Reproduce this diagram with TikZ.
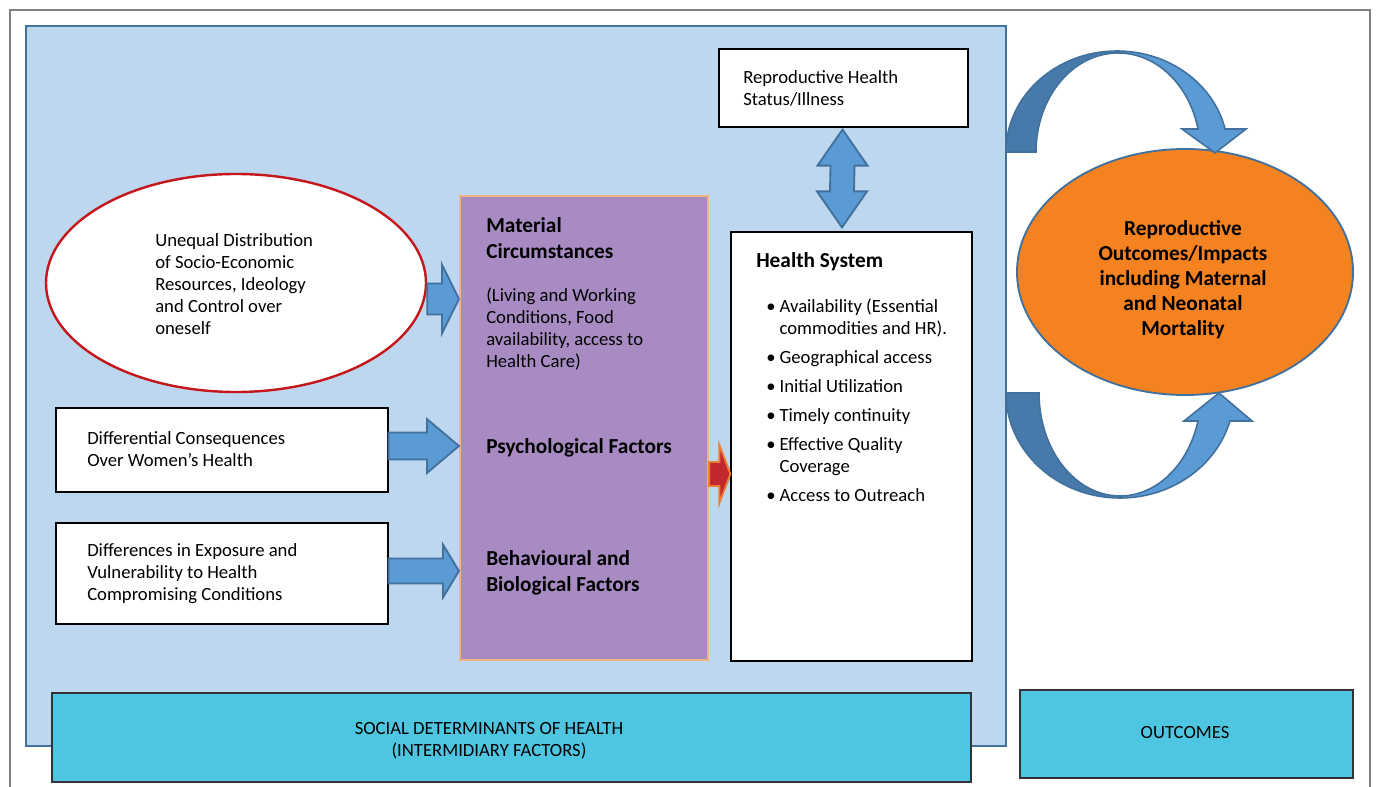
\documentclass[tikz,border=0pt]{standalone}
\usepackage{fontspec}
\setmainfont{Carlito}
\usetikzlibrary{calc,shapes.geometric}

\definecolor{panelblue}{HTML}{BDD7EE}
\definecolor{frameblue}{HTML}{41719C}
\definecolor{arrowblue}{HTML}{5B9BD5}
\definecolor{arcdark}{HTML}{477AAB}
\definecolor{boxpurple}{HTML}{A88BC3}
\definecolor{peach}{HTML}{F4B183}
\definecolor{outorange}{HTML}{F58220}
\definecolor{ellred}{HTML}{C4161C}
\definecolor{labelcyan}{HTML}{4FC6E1}
\definecolor{arrowred}{HTML}{C0282D}
\definecolor{arroworange}{HTML}{ED7D31}

\def\pxl{0.75pt}

% block arrow pointing right: style, tail, tip, shaft half, head half, head length
\newcommand{\rightblock}[6]{%
  \draw[#1] ($(#2|-#3)+(0,-#4)$) -- ($(#3)+(-#6,-#4)$) -- ($(#3)+(-#6,-#5)$) -- (#3)
    -- ($(#3)+(-#6,#5)$) -- ($(#3)+(-#6,#4)$) -- ($(#2|-#3)+(0,#4)$) -- cycle;}

\tikzset{
  plainbox/.style={draw=black, fill=white, line width=0.9pt, inner sep=0},
  txt/.style={anchor=north west, inner sep=0, align=left, font=\fontsize{14}{16.5}\selectfont},
  boldtxt/.style={anchor=north west, inner sep=0, align=left, font=\bfseries\fontsize{16}{19.5}\selectfont},
  blockarrow/.style={fill=arrowblue, draw=frameblue, line width=1.4pt, line join=miter},
  labelbox/.style={draw=black!80, fill=labelcyan, line width=0.9pt, inner sep=0, align=center,
    font=\fontsize{14}{16.5}\selectfont}
}

\begin{document}
\begin{tikzpicture}[x=0.75pt,y=-0.75pt]
\useasboundingbox (0,0) rectangle (1376,787);

% outer frame
\draw[black!50, line width=1.2pt] (10,787) -- (10,10) -- (1370,10) -- (1370,787);

% panel
\node[draw=frameblue, fill=panelblue, line width=2pt, inner sep=0,
  minimum width=980*\pxl, minimum height=720*\pxl] (panel) at (516,386) {};

% boxes
\node[plainbox, minimum width=249*\pxl, minimum height=78*\pxl] (status) at (843.5,88) {};
\node[txt] (statustext) at (743,70.5) {Reproductive Health\\Status/Illness};

\node[ellipse, draw=ellred, fill=white, line width=1.8pt, inner sep=0,
  minimum width=380*\pxl, minimum height=218*\pxl] (ineq) at (236,283) {};
\node[txt] (ineqtext) at (155,233.5) {Unequal Distribution\\of Socio-Economic\\Resources, Ideology\\and Control over\\oneself};

\node[plainbox, minimum width=332*\pxl, minimum height=84*\pxl] (diffcons) at (222,450) {};
\node[txt] (diffconstext) at (87,431.5) {Differential Consequences\\Over Women’s Health};

\node[plainbox, minimum width=332*\pxl, minimum height=101*\pxl] (diffexp) at (222,573.5) {};
\node[txt] (diffexptext) at (87,543.5) {Differences in Exposure and\\Vulnerability to Health\\Compromising Conditions};

\node[draw=peach, fill=boxpurple, line width=1.6pt, inner sep=0,
  minimum width=248*\pxl, minimum height=464*\pxl] (purple) at (584,428) {};
\node[boldtxt] (material) at (486,217.5) {Material\\Circumstances};
\node[txt] (living) at (486,287.5) {(Living and Working\\Conditions, Food\\availability, access to\\Health Care)};
\node[boldtxt] (psych) at (486,438.5) {Psychological Factors};
\node[boldtxt] (behav) at (486,550.5) {Behavioural and\\Biological Factors};

\node[plainbox, minimum width=241*\pxl, minimum height=429*\pxl] (hsys) at (851.5,446.5) {};
\node[boldtxt] (hsystitle) at (756,252.5) {Health System};
\node[txt] (hsyslist) at (766,298.5) {%
  \makebox[10pt][l]{•}Availability (Essential\\
  \hspace*{10pt}commodities and HR).\\[5.25pt]
  \makebox[10pt][l]{•}Geographical access\\[5.25pt]
  \makebox[10pt][l]{•}Initial Utilization\\[5.25pt]
  \makebox[10pt][l]{•}Timely continuity\\[5.25pt]
  \makebox[10pt][l]{•}Effective Quality\\
  \hspace*{10pt}Coverage\\[5.25pt]
  \makebox[10pt][l]{•}Access to Outreach};

% arrows into the purple box
\coordinate (tipa) at (purple.west |- 0,299);
\coordinate (tipb) at (purple.west |- 0,446);
\coordinate (tipc) at (purple.west |- 0,571);
\coordinate (tipd) at (hsys.west |- 0,474);
\rightblock{blockarrow}{ineq.east}{tipa}{15.5}{34.5}{17}
\rightblock{blockarrow}{diffcons.east}{tipb}{13.5}{27}{32}
\rightblock{blockarrow}{diffexp.east}{tipc}{12.5}{26.5}{16}
\rightblock{fill=arrowred, draw=arroworange, line width=1.4pt}{purple.east}{tipd}{12}{29}{11}

% double arrow status <-> health system
\coordinate (up) at ($(status.south)+(-1,2)$);
\coordinate (down) at ($(hsys.north)+(-9.5,-4)$);
\draw[blockarrow] (up) -- ++(25,36) -- ++(-13,0) -- ($(down)+(12,-36)$) -- ($(down)+(25,-36)$)
  -- (down) -- ($(down)+(-25,-36)$) -- ($(down)+(-12,-36)$) -- ($(up)+(-12,36)$) -- ++(-13,0) -- cycle;

% outcome ellipse
\node[ellipse, draw=frameblue, fill=outorange, line width=1.4pt, inner sep=0,
  minimum width=336*\pxl, minimum height=246*\pxl] (outcome) at (1185,272) {};
\node[align=center, inner sep=0, font=\bfseries\fontsize{16}{18.75}\selectfont] (outcometext) at (1183,280)
  {Reproductive\\Outcomes/Impacts\\including Maternal\\and Neonatal\\Mortality};

% curved arrows
\draw[fill=arcdark, draw=frameblue, line width=1.2pt] (1006,152) arc[start angle=180, end angle=270, x radius=111, y radius=101]
  -- (1118,53) arc[start angle=270, end angle=180, x radius=82, y radius=99] -- cycle;
\draw[fill=arrowblue, draw=frameblue, line width=1.2pt] (1117,51) arc[start angle=270, end angle=346.84, x radius=111, y radius=101]
  -- (1246,129) -- (1215,153) -- (1182,129) -- (1198,129)
  arc[start angle=346.57, end angle=270, x radius=82, y radius=99] -- cycle;
\draw[fill=arcdark, draw=frameblue, line width=1.2pt] (1006,393) arc[start angle=180, end angle=90, x radius=114, y radius=105]
  -- (1120,496) arc[start angle=90, end angle=180, x radius=81, y radius=103] -- cycle;
\draw[fill=arrowblue, draw=frameblue, line width=1.2pt] (1120,498) arc[start angle=90, end angle=15.47, x radius=114, y radius=105]
  -- (1252,421) -- (1219,393) -- (1184,421) -- (1198,421)
  arc[start angle=15.77, end angle=90, x radius=81, y radius=103] -- cycle;

% bottom labels
\node[labelbox, minimum width=919*\pxl, minimum height=89*\pxl] (sdh) at (511.5,737.5) {};
\node[align=center, inner sep=0, font=\fontsize{14}{16.5}\selectfont] (sdhtext) at (489,740.5)
  {SOCIAL DETERMINANTS OF HEALTH\\(INTERMIDIARY FACTORS)};
\node[labelbox, minimum width=333*\pxl, minimum height=88*\pxl] (outlabel) at (1186.5,734) {};
\node[inner sep=0, font=\fontsize{14}{16.5}\selectfont] (outlabeltext) at (1185,733) {OUTCOMES};
\end{tikzpicture}
\end{document}
